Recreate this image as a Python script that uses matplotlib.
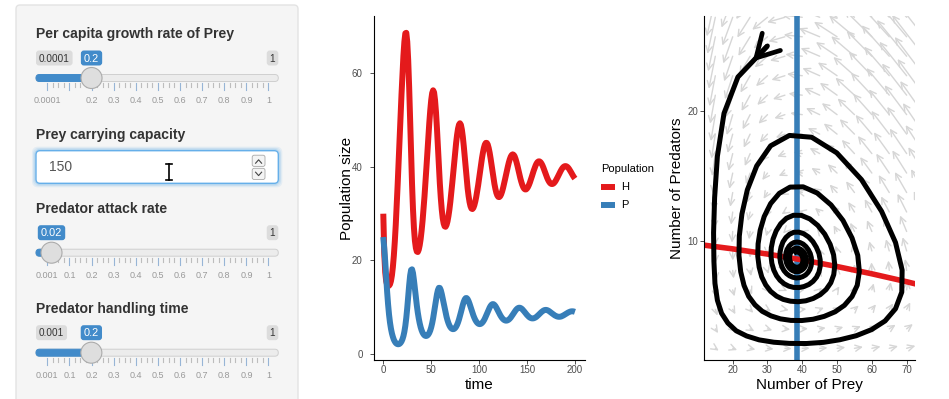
import numpy as np
import matplotlib
matplotlib.use("Agg")
import matplotlib.pyplot as plt
from matplotlib.patches import FancyBboxPatch, Circle, FancyArrowPatch

plt.rcParams['font.family'] = ['Liberation Sans', 'DejaVu Sans']

# slider settings shown in the app (e, d are not shown, estimated from the isoclines)
r, K, a, h = 0.2, 150, 0.02, 0.2
e, d = 0.6, 0.4

# simulated populations, one value per time unit
time = list(range(0, 201))
H = [
    30.0, 21.5, 17.5, 15.6, 14.8, 14.5, 14.6, 14.9, 15.6, 16.8,
    18.6, 21.0, 24.0, 27.6, 31.8, 36.3, 41.2, 46.1, 50.8, 55.5,
    59.9, 63.8, 66.8, 68.6, 68.7, 66.8, 62.8, 57.0, 49.9, 42.7,
    36.3, 30.9, 26.9, 24.2, 22.65, 21.9, 21.8, 22.3, 23.25, 24.6,
    26.4, 28.5, 31.0, 33.7, 36.7, 39.85, 43.1, 46.3, 49.4, 52.1,
    54.3, 55.8, 56.4, 55.95, 54.3, 51.7, 48.25, 44.3, 40.25, 36.5,
    33.4, 30.9, 29.05, 27.9, 27.3, 27.2, 27.6, 28.35, 29.5, 30.9,
    32.6, 34.5, 36.6, 38.8, 41.0, 43.15, 45.15, 46.85, 48.2, 49.05,
    49.35, 49.0, 48.0, 46.45, 44.45, 42.15, 39.75, 37.45, 35.45, 33.8,
    32.5, 31.6, 31.1, 31.0, 31.25, 31.8, 32.6, 33.6, 34.8, 36.1,
    37.55, 39.05, 40.5, 41.9, 43.1, 44.1, 44.8, 45.15, 45.15, 44.8,
    44.05, 43.05, 41.8, 40.4, 39.0, 37.6, 36.35, 35.3, 34.45, 33.9,
    33.6, 33.55, 33.75, 34.15, 34.75, 35.5, 36.35, 37.3, 38.25, 39.2,
    40.1, 40.95, 41.65, 42.2, 42.55, 42.7, 42.6, 42.3, 41.75, 41.05,
    40.25, 39.35, 38.45, 37.6, 36.85, 36.2, 35.7, 35.35, 35.2, 35.2,
    35.4, 35.72, 36.16, 36.68, 37.29, 37.93, 38.59, 39.23, 39.82, 40.34,
    40.76, 41.05, 41.19, 41.19, 41.05, 40.77, 40.38, 39.9, 39.35, 38.77,
    38.2, 37.67, 37.22, 36.85, 36.57, 36.4, 36.34, 36.39, 36.53, 36.77,
    37.08, 37.45, 37.85, 38.27, 38.69, 39.09, 39.46, 39.77, 40.0, 40.14,
    40.19, 40.15, 40.03, 39.82, 39.54, 39.21, 38.86, 38.49, 38.13, 37.8,
    37.52,
]
P = [
    25.0, 22.6, 19.8, 16.5, 13.3, 10.6, 8.4, 6.7, 5.4, 4.4,
    3.65, 3.05, 2.65, 2.35, 2.17, 2.08, 2.07, 2.16, 2.36, 2.67,
    3.14, 3.81, 4.75, 6.03, 7.73, 9.85, 12.25, 14.7, 16.76, 17.96,
    18.1, 17.3, 15.75, 13.9, 12.05, 10.35, 8.85, 7.6, 6.55, 5.7,
    5.05, 4.55, 4.2, 3.97, 3.85, 3.84, 3.94, 4.16, 4.51, 5.01,
    5.69, 6.56, 7.62, 8.86, 10.2, 11.55, 12.75, 13.66, 14.14, 14.12,
    13.64, 12.85, 11.85, 10.8, 9.75, 8.8, 7.95, 7.2, 6.58, 6.09,
    5.72, 5.47, 5.33, 5.29, 5.36, 5.54, 5.83, 6.23, 6.75, 7.38,
    8.1, 8.9, 9.72, 10.5, 11.17, 11.67, 11.94, 11.95, 11.72, 11.3,
    10.75, 10.12, 9.46, 8.83, 8.25, 7.73, 7.29, 6.94, 6.67, 6.49,
    6.39, 6.38, 6.46, 6.62, 6.86, 7.18, 7.57, 8.02, 8.51, 9.0,
    9.48, 9.92, 10.28, 10.53, 10.65, 10.64, 10.49, 10.24, 9.9, 9.5,
    9.09, 8.69, 8.31, 7.97, 7.68, 7.45, 7.28, 7.17, 7.12, 7.14,
    7.22, 7.35, 7.54, 7.78, 8.06, 8.37, 8.69, 9.0, 9.29, 9.54,
    9.73, 9.85, 9.89, 9.85, 9.74, 9.57, 9.35, 9.1, 8.84, 8.58,
    8.33, 8.11, 7.92, 7.77, 7.67, 7.61, 7.6, 7.63, 7.71, 7.82,
    7.97, 8.15, 8.35, 8.56, 8.76, 8.95, 9.12, 9.26, 9.36, 9.41,
    9.42, 9.37, 9.28, 9.16, 9.01, 8.85, 8.69, 8.53, 8.38, 8.24,
    8.13, 8.04, 7.98, 7.95, 7.95, 7.98, 8.04, 8.13, 8.24, 8.36,
    8.49, 8.62, 8.75, 8.87, 8.97, 9.05, 9.1, 9.12, 9.11, 9.07,
    9.0,
]

# isoclines
prey_iso_H = [10, 20, 30, 40, 50, 60, 70, 75]
prey_iso_P = [9.71, 9.36, 8.96, 8.51, 8.0, 7.44, 6.83, 6.5]
pred_iso_H = 38.46

# slider panel contents
slider_labels = ["Per capita growth rate of Prey", "Predator attack rate", "Predator handling time"]
slider_min = [0.0001, 0.001, 0.001]
slider_min_txt = ["0.0001", "0.001", "0.001"]
slider_val = [0.2, 0.02, 0.2]
slider_val_txt = ["0.2", "0.02", "0.2"]
slider_show_min = [True, False, True]
slider_grid_txt = [
    ["0.0001", "", "0.2", "0.3", "0.4", "0.5", "0.6", "0.7", "0.8", "0.9", "1"],
    ["0.001", "0.1", "0.2", "0.3", "0.4", "0.5", "0.6", "0.7", "0.8", "0.9", "1"],
    ["0.001", "0.1", "0.2", "0.3", "0.4", "0.5", "0.6", "0.7", "0.8", "0.9", "1"],
]
slider_y = [34.3, 209, 309]
capacity_label = "Prey carrying capacity"
capacity_value = "150"

RED = '#e41a1c'
BLUE = '#377eb8'
UIBLUE = '#428bca'

fig = plt.figure(figsize=(9.49, 3.99), dpi=100)
fig.patch.set_facecolor('white')

# pixel-coordinate overlay for the input panel and titles
ui = fig.add_axes([0, 0, 1, 1])
ui.set_xlim(0, 949)
ui.set_ylim(399, 0)
ui.axis('off')


def badge_width(txt, fs_px):
    nd = sum(c.isdigit() for c in txt)
    return nd * 0.556 * fs_px + txt.count('.') * 0.278 * fs_px + 6


def badge(xl, yc, txt, fc, tc, fs_px):
    w = badge_width(txt, fs_px)
    ui.add_patch(FancyBboxPatch((xl, yc - 7.5), w, 15, boxstyle='round,pad=0,rounding_size=3',
                                fc=fc, ec='none', zorder=4))
    ui.text(xl + w / 2, yc + 0.5, txt, fontsize=fs_px * 0.72, color=tc, ha='center', va='center', zorder=5)


ui.add_patch(FancyBboxPatch((16, 5), 282, 420, boxstyle='round,pad=0,rounding_size=4',
                            fc='#f5f5f5', ec='#e3e3e3', lw=1))

x0, x1 = 47.3, 268.5
for lab, vmin, mtxt, val, vtxt, showmin, gtxt, y in zip(slider_labels, slider_min, slider_min_txt, slider_val,
                                                        slider_val_txt, slider_show_min, slider_grid_txt, slider_y):
    ui.text(36, y, lab, fontsize=10.1, fontweight='bold', color='#333333', ha='left', va='center')
    xv = x0 + (val - vmin) / (1 - vmin) * (x1 - x0)
    ty = y + 43.7
    ui.add_patch(FancyBboxPatch((36, ty - 3.5), 242.3, 7, boxstyle='round,pad=0,rounding_size=3.5',
                                fc='#ececec', ec='#cfcfcf', lw=0.7, zorder=2))
    ui.add_patch(FancyBboxPatch((36, ty - 3.5), xv - 36, 7, boxstyle='round,pad=0,rounding_size=3.5',
                                fc=UIBLUE, ec=UIBLUE, lw=0.7, zorder=2))
    for i in range(41):
        xt = x0 + i / 40 * (x1 - x0)
        major = i % 4 == 0
        ui.plot([xt, xt], [ty + 5.3, ty + (12 if major else 8.8)],
                color='#97b5d6' if major else '#bdbdbd', lw=0.8, zorder=2)
    for i, gt in enumerate(gtxt):
        ui.text(x0 + i / 10 * (x1 - x0), y + 66, gt, fontsize=6.5, color='#999999', ha='center', va='center')
    ui.add_patch(Circle((xv, ty), 10.5, fc='#dedede', ec='#ababab', lw=0.8, zorder=3))
    if showmin:
        badge(36, y + 23.7, mtxt, '#dcdcdc', '#333333', 10)
    badge(278.3 - badge_width("1", 10), y + 23.7, "1", '#dcdcdc', '#333333', 10)
    wv = badge_width(vtxt, 11)
    badge(xv - wv / 2, y + 23.7, vtxt, UIBLUE, 'white', 11)

# numeric input
ui.text(36, 135, capacity_label, fontsize=10.1, fontweight='bold', color='#333333', ha='left', va='center')
for grow, alpha in [(3, 0.12), (1.8, 0.2), (0.8, 0.3)]:
    ui.add_patch(FancyBboxPatch((36 - grow, 150.7 - grow), 242.3 + 2 * grow, 32.6 + 2 * grow,
                                boxstyle='round,pad=0,rounding_size=5', fc='none',
                                ec=(0.4, 0.69, 0.91, alpha), lw=1.5))
ui.add_patch(FancyBboxPatch((36, 150.7), 242.3, 32.6, boxstyle='round,pad=0,rounding_size=4',
                            fc='white', ec='#66afe9', lw=1))
ui.text(49.3, 167, capacity_value, fontsize=10, color='#555555', ha='left', va='center')
for yb in (155.2, 168.3):
    ui.add_patch(FancyBboxPatch((252.2, yb), 12.8, 11.2, boxstyle='round,pad=0,rounding_size=2',
                                fc='#f4f4f4', ec='#a8a8a8', lw=0.6))
ui.plot([255.6, 258.6, 261.6], [163.2, 159.8, 163.2], color='#444444', lw=0.8)
ui.plot([255.6, 258.6, 261.6], [172.2, 175.6, 172.2], color='#444444', lw=0.8)
ui.plot([169, 169], [164, 180], color='black', lw=1.2)
ui.plot([166.3, 171.7], [164, 164], color='black', lw=1.2)
ui.plot([166.3, 171.7], [180, 180], color='black', lw=1.2)

# axis titles
ui.text(346.7, 188, 'Population size', fontsize=11, rotation=90, ha='center', va='center')
ui.text(479, 385, 'time', fontsize=11, ha='center', va='center')
ui.text(676.7, 188, 'Number of Predators', fontsize=11, rotation=90, ha='center', va='center')
ui.text(809, 385, 'Number of Prey', fontsize=11, ha='center', va='center')


def px_axes(left, top, right, bottom):
    return fig.add_axes([left / 949, 1 - bottom / 399, (right - left) / 949, (bottom - top) / 399])


def classic(ax, ypad):
    for s in ('top', 'right'):
        ax.spines[s].set_visible(False)
    for s in ('left', 'bottom'):
        ax.spines[s].set_linewidth(0.8)
        ax.spines[s].set_color('black')
    ax.tick_params(length=2.6, width=0.6, colors='#333333', labelsize=7, labelcolor='#4d4d4d')
    ax.tick_params(axis='x', pad=1.2)
    ax.tick_params(axis='y', pad=ypad)
    ax.patch.set_alpha(0)


# time series
ax1 = px_axes(374, 16, 585, 360)
lh, = ax1.plot(time, H, color=RED, lw=4.3, solid_capstyle='butt', solid_joinstyle='round')
lp, = ax1.plot(time, P, color=BLUE, lw=4.3, solid_capstyle='butt', solid_joinstyle='round')
ax1.set_xlim(-9.7, 210.5)
ax1.set_ylim(-1.3, 72.3)
ax1.set_xticks([0, 50, 100, 150, 200])
ax1.set_yticks([0, 20, 40, 60])
classic(ax1, 5.5)
fig.legend([lh, lp], ['H', 'P'], title='Population', loc='upper left',
           bbox_to_anchor=(601 / 949, 1 - 164.5 / 399), frameon=False, fontsize=8, title_fontsize=8,
           handlelength=1.26, handletextpad=0.57, labelspacing=0.72, borderpad=0, borderaxespad=0,
           alignment='left')

# phase plane
ax2 = px_axes(704, 16, 915, 360)
ax2.set_xlim(11.75, 72.4)
ax2.set_ylim(0.8, 27.3)
gh, gp = np.meshgrid(np.arange(10, 76, 5.0), np.arange(0.2, 29, 1.5))
fr = a * gh / (1 + a * h * gh)
dh = r * gh * (1 - gh / K) - fr * gp
dp = e * fr * gp - d * gp
step = 0.45
for hh, pp, u, v in zip(gh.ravel(), gp.ravel(), dh.ravel(), dp.ravel()):
    ax2.add_patch(FancyArrowPatch((hh, pp), (hh + step * u, pp + step * v),
                                  arrowstyle='->,head_length=0.45,head_width=0.22', mutation_scale=10,
                                  color='#d6d6d6', lw=1.0, shrinkA=0, shrinkB=0, zorder=1))
ax2.axvline(pred_iso_H, color=BLUE, lw=4, zorder=2)
ax2.plot(prey_iso_H, prey_iso_P, color=RED, lw=4, solid_capstyle='butt', zorder=2)
ax2.plot(H, P, color='black', lw=3.6, solid_joinstyle='round', solid_capstyle='butt', zorder=3)
ax2.annotate('', xy=((H[0] + H[1]) / 2, (P[0] + P[1]) / 2), xytext=(H[0], P[0]),
             arrowprops=dict(arrowstyle='->,head_length=0.8,head_width=0.45', lw=3.4, color='black',
                             mutation_scale=20, shrinkA=0, shrinkB=0), zorder=4)
ax2.set_xticks([20, 30, 40, 50, 60, 70])
ax2.set_yticks([10, 20])
classic(ax2, 1.6)

fig.savefig('out.png', dpi=100)
